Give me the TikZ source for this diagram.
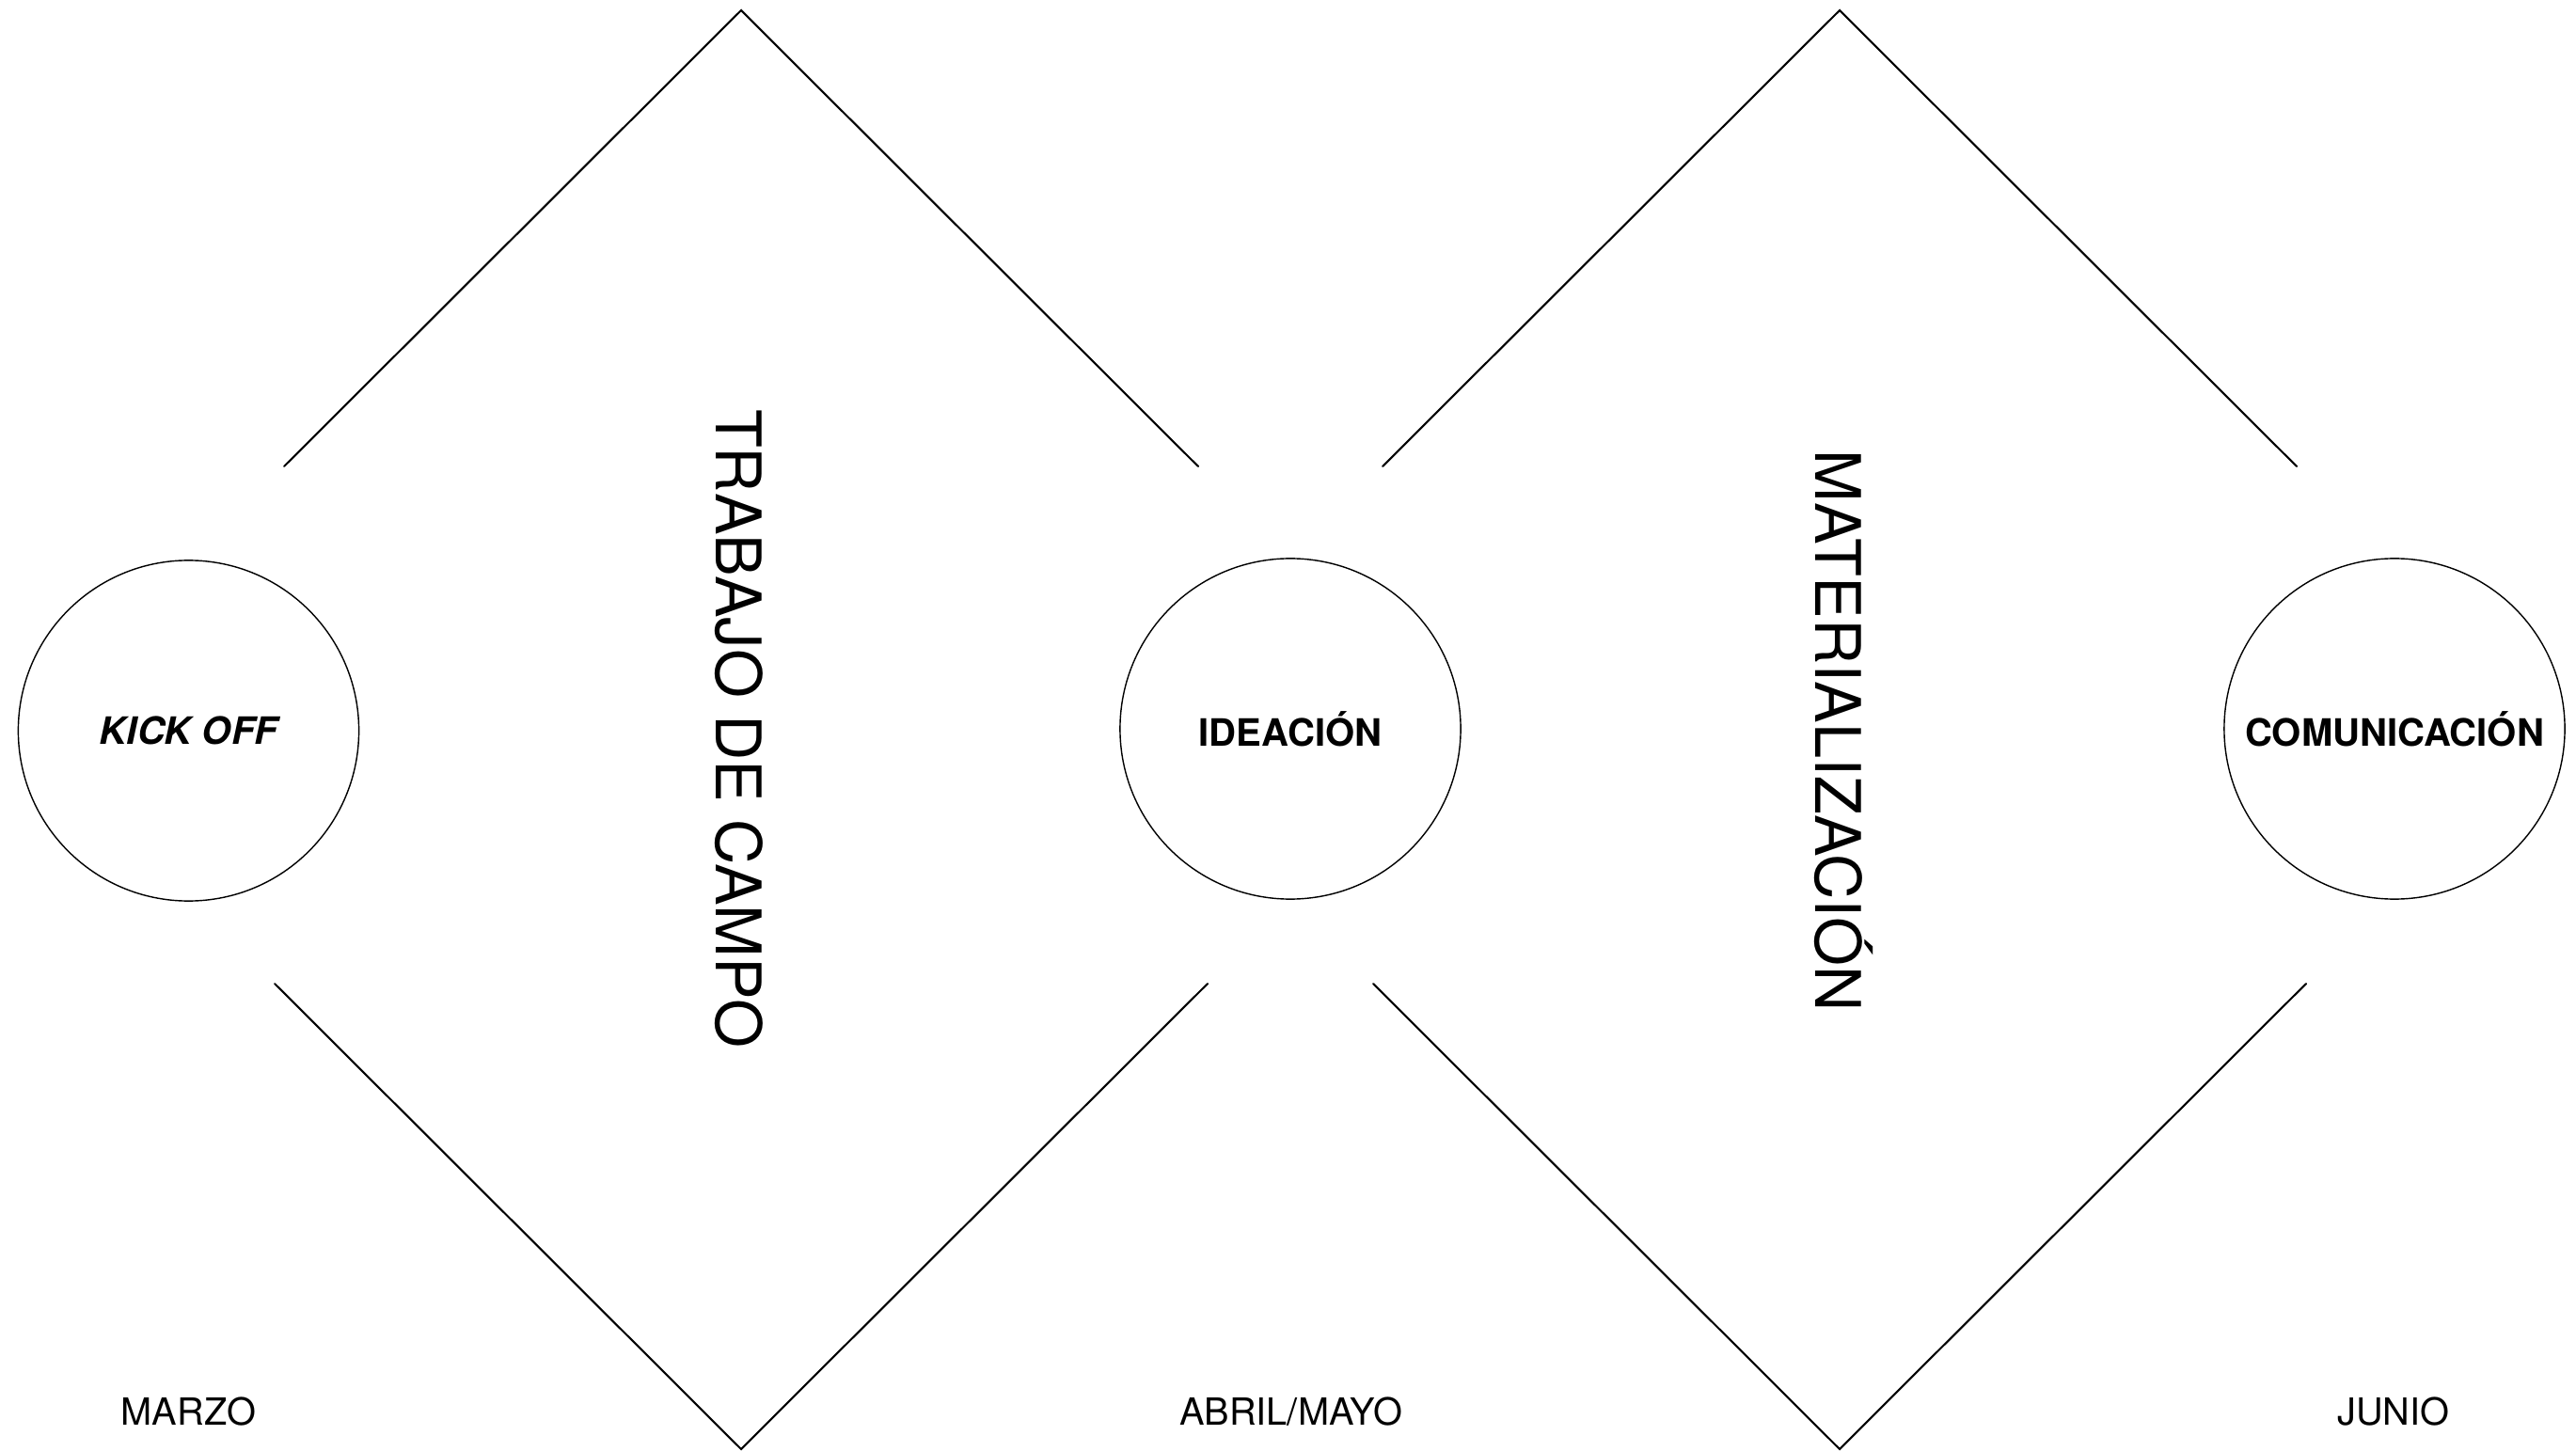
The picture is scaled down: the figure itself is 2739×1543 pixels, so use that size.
\documentclass[tikz,border=0pt]{standalone}
\usepackage{fontspec}
\setmainfont{TeX Gyre Heros}
\begin{document}
\begin{tikzpicture}[x=0.01cm,y=-0.01cm,
  edge/.style={draw=black,line width=0.6pt,line cap=round,line join=miter},
  phase/.style={circle,draw=black,line width=0.4pt,inner sep=0pt,minimum size=3.62cm,font=\fontsize{11.4pt}{13pt}\selectfont\bfseries},
  stage/.style={rotate=-90,anchor=base,inner sep=0pt,font=\fontsize{19pt}{22pt}\selectfont},
  month/.style={anchor=base,inner sep=0pt,font=\fontsize{11.3pt}{13pt}\selectfont}]
\useasboundingbox (0,0) rectangle (2739,1543);
% circles
\node[phase] (kick) at (200.5,777) {\itshape KICK OFF};
\node[phase] (idea) at (1372,775) {IDEACIÓN};
\node[phase] (comu) at (2546,775) {COMUNICACIÓN};
% left diamond
\coordinate (lt) at (788,11);
\coordinate (lul) at (302,496);
\coordinate (lur) at (1274,496);
\coordinate (lb) at (788,1541);
\coordinate (lbl) at (292,1046);
\coordinate (lbr) at (1284,1046);
\draw[edge] (lul) -- (lt) -- (lur);
\draw[edge] (lbl) -- (lb) -- (lbr);
% right diamond
\coordinate (rt) at (1956,11);
\coordinate (rul) at (1470,496);
\coordinate (rur) at (2442,496);
\coordinate (rb) at (1956,1541);
\coordinate (rbl) at (1460,1046);
\coordinate (rbr) at (2452,1046);
\draw[edge] (rul) -- (rt) -- (rur);
\draw[edge] (rbl) -- (rb) -- (rbr);
% stage labels
\node[stage] (trab) at (761,775) {TRABAJO DE CAMPO};
\node[stage] (mate) at (1930,777) {MATERIALIZACIÓN};
% months
\node[month] (marzo) at (200.5,1515) {MARZO};
\node[month] (abril) at (1372.5,1515) {ABRIL/MAYO};
\node[month] (junio) at (2545,1515) {JUNIO};
\end{tikzpicture}
\end{document}
